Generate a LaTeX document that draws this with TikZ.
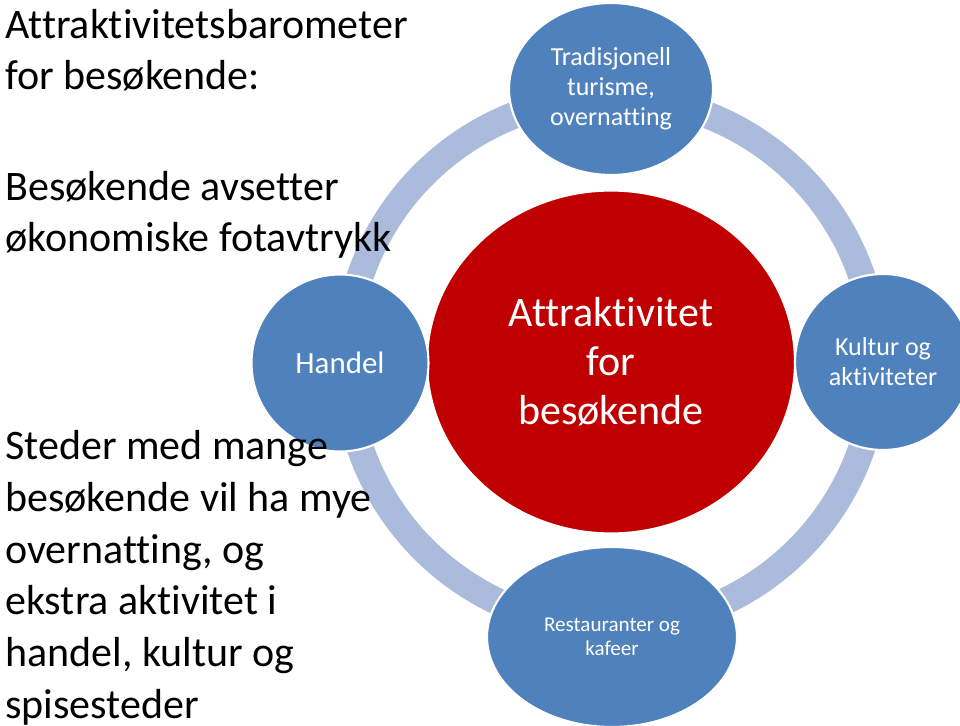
\documentclass[tikz,border=0pt]{standalone}
\usepackage{fontspec}
\setmainfont{Carlito}[Ligatures=NoCommon]
\usepackage{tikz}
\usetikzlibrary{shapes.geometric}

\definecolor{satblue}{RGB}{79,129,189}
\definecolor{ringblue}{RGB}{170,187,219}
\definecolor{corered}{RGB}{192,0,0}

\begin{document}
\begin{tikzpicture}[x=0.02cm,y=-0.02cm,
	sat/.style={ellipse, fill=satblue, draw=white, line width=1.2pt, inner sep=0pt, text=white, align=center},
	lefttext/.style={inner sep=0pt, align=left, anchor=base west, font=\fontsize{23.9}{29.4}\selectfont}]
	\useasboundingbox (0,0) rectangle (960,726);
	\clip (0,0) rectangle (960,726);
	\coordinate (ctr) at (611,362);
	\draw [ringblue, line width=0.54cm] (ctr) circle (265);
	\node [ellipse, fill=corered, draw=white, line width=1.2pt, inner sep=0pt, minimum width=7.36cm, minimum height=6.86cm, text=white, align=center, font=\fontsize{23.9}{27.9}\selectfont] (core) at (ctr) {Attraktivitet\\for\\besøkende};
	\node [sat, minimum width=4.08cm, minimum height=3.44cm, font=\fontsize{14.8}{17.1}\selectfont] (trad) at (611,89) {Tradisjonell\\turisme,\\overnatting};
	\node [sat, minimum width=3.54cm, minimum height=3.54cm, font=\fontsize{17.6}{20}\selectfont] (handel) at (340,363) {Handel};
	\node [sat, minimum width=3.52cm, minimum height=3.52cm, font=\fontsize{14.8}{17.1}\selectfont] (kultur) at (883,362) {Kultur og\\aktiviteter};
	\node [sat, minimum width=5cm, minimum height=3.6cm, font=\fontsize{12}{13.7}\selectfont] (rest) at (612,637) {Restauranter og\\kafeer};
	% tekst til venstre (ankret i siste linje)
	\node [lefttext] (title) at (5,90) {Attraktivitetsbarometer\\for besøkende:};
	\node [lefttext] (fotavtrykk) at (5,252) {Besøkende avsetter\\økonomiske fotavtrykk};
	\node [lefttext] (steder) at (5,718) {Steder med mange\\besøkende vil ha mye\\overnatting, og\\ekstra aktivitet i\\handel, kultur og\\spisesteder};
\end{tikzpicture}
\end{document}
